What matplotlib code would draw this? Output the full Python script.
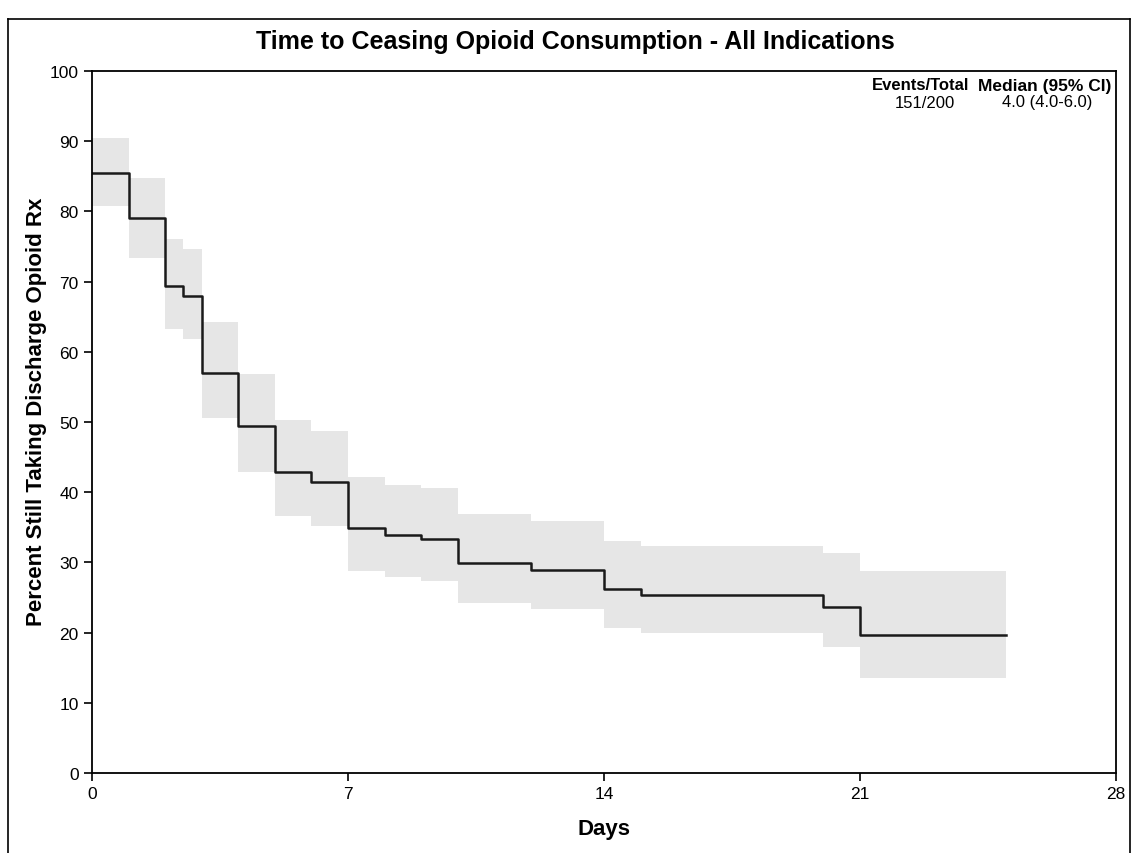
import numpy as np
import matplotlib.pyplot as plt
from matplotlib.lines import Line2D

plt.rcParams['font.family'] = ['Liberation Sans', 'DejaVu Sans']

# step start times (days) and value held until the next time
times = [0, 1, 2, 2.5, 3, 4, 5, 6, 7, 8, 9, 10, 12, 14, 15, 20, 21, 25]
surv = [85.5, 79.0, 69.4, 67.9, 57.0, 49.4, 42.9, 41.4, 34.9, 33.9, 33.4, 29.9, 28.9, 26.2, 25.4, 23.6, 19.7]
lower = [80.8, 73.4, 63.3, 61.8, 50.6, 42.9, 36.6, 35.2, 28.8, 27.9, 27.4, 24.2, 23.4, 20.7, 19.9, 17.9, 13.5]
upper = [90.4, 84.8, 76.1, 74.6, 64.2, 56.8, 50.3, 48.7, 42.1, 41.0, 40.6, 36.9, 35.9, 33.0, 32.3, 31.3, 28.8]

x_ticks = [0, 7, 14, 21, 28]
y_ticks = list(range(0, 101, 10))

# extend last value to the end time for post-steps
s_ext = surv + [surv[-1]]
lo_ext = lower + [lower[-1]]
up_ext = upper + [upper[-1]]

fig = plt.figure(figsize=(11.34, 8.54), dpi=100)
ax = fig.add_axes([92/1134, 1-774/854, (1116-92)/1134, (774-72)/854])

ax.fill_between(times, lo_ext, up_ext, step='post', color='#e6e6e6', linewidth=0)
ax.step(times, s_ext, where='post', color='#1a1a1a', linewidth=1.8)

ax.set_xlim(0, 28)
ax.set_ylim(0, 100)
ax.set_xticks(x_ticks)
ax.set_yticks(y_ticks)
ax.tick_params(direction='out', length=6, width=1.2, labelsize=12.5, colors='black')
for s in ax.spines.values():
    s.set_linewidth(1.3)

ax.set_xlabel('Days', fontsize=16, fontweight='bold', labelpad=12)
ax.set_ylabel('Percent Still Taking Discharge Opioid Rx', fontsize=16, fontweight='bold', labelpad=3)
ax.yaxis.set_label_coords(-0.0444, 0.516)

fig.text(575/1134, 1-42/854, 'Time to Ceasing Opioid Consumption - All Indications',
         ha='center', va='center', fontsize=18, fontweight='bold')

ax.text(921/1134, 1-86/854, 'Events/Total', transform=fig.transFigure,
        ha='center', va='center', fontsize=12, fontweight='bold')
ax.text(1045/1134, 1-86/854, 'Median (95% CI)', transform=fig.transFigure,
        ha='center', va='center', fontsize=12.5, fontweight='bold')
ax.text(925/1134, 1-103/854, '151/200', transform=fig.transFigure,
        ha='center', va='center', fontsize=12)
ax.text(1047/1134, 1-103/854, '4.0 (4.0-6.0)', transform=fig.transFigure,
        ha='center', va='center', fontsize=12)

# outer frame around the graph
x0, x1, y0 = 8/1134, 1130/1134, 1-20/854
fig.add_artist(Line2D([x0, x1], [y0, y0], color='black', linewidth=1.2))
fig.add_artist(Line2D([x0, x0], [0, y0], color='black', linewidth=1.2))
fig.add_artist(Line2D([x1, x1], [0, y0], color='black', linewidth=1.2))

fig.savefig('out.png', dpi=100)
